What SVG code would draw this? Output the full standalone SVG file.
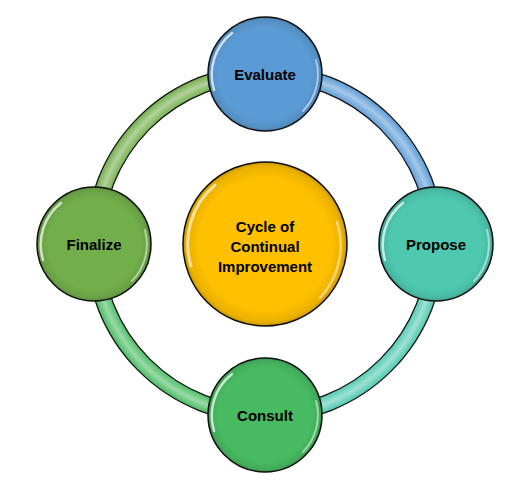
<svg xmlns="http://www.w3.org/2000/svg" width="516" height="490" viewBox="0 0 516 490">
<defs>
<radialGradient id="ringHi" gradientUnits="userSpaceOnUse" cx="265" cy="244" r="179">
<stop offset="0.905" stop-color="#fff" stop-opacity="0"/>
<stop offset="0.955" stop-color="#fff" stop-opacity="0.45"/>
<stop offset="1" stop-color="#fff" stop-opacity="0"/>
</radialGradient>
<radialGradient id="edge" cx="0.5" cy="0.5" r="0.5">
<stop offset="0.8" stop-color="#000" stop-opacity="0"/>
<stop offset="0.95" stop-color="#000" stop-opacity="0.08"/>
<stop offset="1" stop-color="#000" stop-opacity="0.22"/>
</radialGradient>
<style>
.arcO{fill:none;stroke:#111;stroke-width:17.5}
.arc{fill:none;stroke-width:15}
.arcH{fill:none;stroke:url(#ringHi);stroke-width:15}
.node{stroke:#111;stroke-width:1.5}
.shade{fill:url(#edge)}
.hl{fill:none;stroke:#fff;stroke-linecap:round}
.lbl{font-family:"Liberation Sans",Arial,sans-serif;font-weight:bold;font-size:15px;fill:#000;text-anchor:middle}
</style>
</defs>
<rect width="516" height="490" fill="#fff"/>
<g id="connectors">
<path class="arcO" d="M265,73 A171,171 0 0 1 436,244"/>
<path class="arc" stroke="#5B9BD5" d="M265,73 A171,171 0 0 1 436,244"/>
<path class="arcO" d="M436,244 A171,171 0 0 1 265,415"/>
<path class="arc" stroke="#4EC9B0" d="M436,244 A171,171 0 0 1 265,415"/>
<path class="arcO" d="M265,415 A171,171 0 0 1 94,244"/>
<path class="arc" stroke="#48BB62" d="M265,415 A171,171 0 0 1 94,244"/>
<path class="arcO" d="M94,244 A171,171 0 0 1 265,73"/>
<path class="arc" stroke="#72AE4A" d="M94,244 A171,171 0 0 1 265,73"/>
<circle cx="265" cy="244" r="171" class="arcH"/>
</g>
<g id="center">
<circle class="node" cx="265" cy="244" r="82" fill="#FFC000"/>
<circle class="shade" cx="265" cy="244" r="82"/>
<path class="hl" stroke-width="3" stroke-opacity="0.6" d="M191,266 A77,77 0 0 1 215,185"/>
<path class="hl" stroke-width="2.5" stroke-opacity="0.45" d="M337,222 A77,77 0 0 1 320,298"/>
<text class="lbl" x="265" y="232">Cycle of</text>
<text class="lbl" x="265" y="252">Continual</text>
<text class="lbl" x="265" y="272">Improvement</text>
</g>
<g id="evaluate">
<circle class="node" cx="265" cy="74" r="57" fill="#5B9BD5"/>
<circle class="shade" cx="265" cy="74" r="57"/>
<path class="hl" stroke-width="2.5" stroke-opacity="0.7" d="M214,90 A53,53 0 0 1 232,33"/>
<path class="hl" stroke-width="2" stroke-opacity="0.5" d="M316,60 A53,53 0 0 1 303,111"/>
<text class="lbl" x="265" y="80">Evaluate</text>
</g>
<g id="propose">
<circle class="node" cx="436" cy="244" r="57" fill="#4EC9B0"/>
<circle class="shade" cx="436" cy="244" r="57"/>
<path class="hl" stroke-width="2.5" stroke-opacity="0.7" d="M385,260 A53,53 0 0 1 403,203"/>
<path class="hl" stroke-width="2" stroke-opacity="0.5" d="M487,230 A53,53 0 0 1 474,281"/>
<text class="lbl" x="436" y="250">Propose</text>
</g>
<g id="consult">
<circle class="node" cx="265" cy="415" r="57" fill="#48BB62"/>
<circle class="shade" cx="265" cy="415" r="57"/>
<path class="hl" stroke-width="2.5" stroke-opacity="0.7" d="M214,431 A53,53 0 0 1 232,374"/>
<path class="hl" stroke-width="2" stroke-opacity="0.5" d="M316,401 A53,53 0 0 1 303,452"/>
<text class="lbl" x="265" y="421">Consult</text>
</g>
<g id="finalize">
<circle class="node" cx="94" cy="244" r="57" fill="#72AE4A"/>
<circle class="shade" cx="94" cy="244" r="57"/>
<path class="hl" stroke-width="2.5" stroke-opacity="0.7" d="M43,260 A53,53 0 0 1 61,203"/>
<path class="hl" stroke-width="2" stroke-opacity="0.5" d="M145,230 A53,53 0 0 1 132,281"/>
<text class="lbl" x="94" y="250">Finalize</text>
</g>
</svg>
